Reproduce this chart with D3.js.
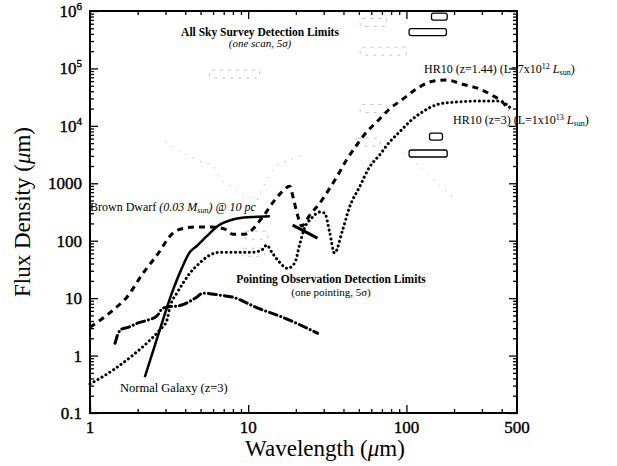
<!DOCTYPE html>
<html>
<head>
<meta charset="utf-8">
<script src="https://cdn.jsdelivr.net/npm/d3@7"></script>
<style>
  body { margin: 0; background: #fff; }
  text { font-family: "Liberation Serif", "Times New Roman", serif; fill: #000; }
</style>
</head>
<body>
<div id="chart"></div>
<script>
// values: wavelength (um) and flux density

// HR10 at z=1.44 (dashed)
var hr10aLam  = [1, 1.4, 1.71, 2.16, 2.65, 3.34, 3.98, 4.6, 5.89, 7.11, 7.98, 9.5, 12.2, 14.7, 16.5, 18.3, 19.4, 20.5, 21.8, 23.4, 25.2, 27.1, 31.3, 36.2, 41.8, 48.4, 56, 64.7, 78.1, 94.4, 116, 140, 179, 226, 289, 349, 404, 446]
var hr10aFlux = [3.1, 6.2, 10.4, 27, 56, 136, 166, 173, 173, 159, 130, 130, 248, 510, 730, 890, 510, 279, 180, 229, 315, 385, 675, 1280, 2540, 4600, 7800, 11600, 19600, 29000, 44000, 58000, 63000, 53000, 44000, 34000, 26000, 18800]

// HR10 at z=3 (dotted)
var hr10bLam  = [1, 1.4, 1.87, 2.39, 2.76, 3.06, 3.2, 3.54, 3.86, 4.27, 4.94, 5.71, 6.61, 10.7, 12.2, 13.1, 14.1, 15.8, 17.7, 19.7, 21.1, 22.7, 25.2, 28.3, 30.4, 32.7, 35.1, 39.5, 43.7, 50.5, 58.4, 67.6, 78.1, 90.3, 104, 126, 161, 207, 289, 386, 434, 467]
var hr10bFlux = [0.32, 0.56, 1.02, 1.85, 2.8, 4.1, 7, 12.2, 18, 27, 41, 56, 63, 63, 69, 84, 63, 42, 33, 41, 84, 166, 248, 315, 303, 141, 61, 153, 385, 860, 1910, 3100, 5200, 7800, 11600, 17400, 24000, 26000, 27000, 27000, 23000, 18800]

// Brown dwarf (solid) and its short piece past the gap
var dwarfLam  = [2.22, 2.76, 3.29, 3.8, 4.27, 4.73, 5.47, 6.42, 8.22, 10.5, 13.7]
var dwarfFlux = [0.42, 2.8, 12.2, 33, 63, 81, 120, 180, 238, 258, 268]
var dwarfTailLam  = [19.1, 27.4]
var dwarfTailFlux = [187, 111]

// Normal galaxy at z=3 (dash-dot)
var galLam  = [1.44, 1.5, 1.59, 1.74, 2.01, 2.29, 2.65, 2.89, 3.8, 4.73, 5.16, 6.61, 7.98, 11.5, 17, 27.4]
var galFlux = [1.64, 2.36, 2.9, 3.1, 3.7, 4.1, 4.9, 6.7, 7.6, 10.4, 12.2, 11.3, 10.4, 6.7, 4.5, 2.45]

// faint sensitivity traces in the scan
var faintVLam  = [2.97, 3.86, 4.73, 5.97, 6.8, 8.22, 9.93, 11.3, 12.3, 15.1, 18.3, 21.8]
var faintVFlux = [5200, 3360, 2540, 2000, 1140, 825, 575, 510, 825, 2000, 2540, 3100]
var faintCLam  = [97, 134, 195]
var faintCFlux = [3500, 1500, 575]

// detection limit boxes: band edges (um) and flux level
var boxLo   = [104, 144, 140, 104]
var boxHi   = [179, 181, 169, 181]
var boxFlux = [430000, 800000, 6500, 3300]
var faintBoxLo   = [51, 51, 5.7, 51, 48, 9.5, 9.1]
var faintBoxHi   = [75, 100, 11.8, 75, 68, 13.3, 12.7]
var faintBoxFlux = [630000, 200000, 80000, 20000, 5200, 125, 63]

// axis ticks
var xMajor = [1, 10, 100]
var xLabels = [1, 10, 100, 500]
var yMajor = [0.1, 1, 10, 100, 1000, 1e4, 1e5, 1e6]
var yLabels = ["0.1", "1", "10", "100", "1000", "10^4", "10^5", "10^6"]

var W = 617, H = 466
var margin = { top: 11, right: 100, bottom: 53, left: 90 }

var svg = d3.select("#chart").append("svg")
  .attr("width", W)
  .attr("height", H)

var x = d3.scaleLog().domain([1, 500]).range([margin.left, W - margin.right])
var y = d3.scaleLog().domain([0.1, 1e6]).range([H - margin.bottom, margin.top])

// minor tick values
var xMinor = []
;[1, 10, 100].forEach(function (dec) {
  for (var k = 2; k <= 9; k++) if (dec * k < 500) xMinor.push(dec * k)
})
var yMinor = []
yMajor.slice(0, -1).forEach(function (dec) {
  for (var k = 2; k <= 9; k++) yMinor.push(dec * k)
})

var x0 = margin.left, x1 = W - margin.right, y0 = H - margin.bottom, y1 = margin.top

function tickAxis(axis, vals, len, transform) {
  var g = svg.append("g")
    .attr("transform", transform)
    .call(axis.tickValues(vals).tickSizeInner(-len).tickSizeOuter(0).tickFormat(""))
  g.select(".domain").remove()
  g.selectAll(".tick line").attr("stroke", "#000").attr("stroke-width", 1.3)
}
tickAxis(d3.axisBottom(x), xMajor, 8, "translate(0," + y0 + ")")
tickAxis(d3.axisBottom(x), xMinor, 4, "translate(0," + y0 + ")")
tickAxis(d3.axisTop(x), xMajor, 8, "translate(0," + y1 + ")")
tickAxis(d3.axisTop(x), xMinor, 4, "translate(0," + y1 + ")")
tickAxis(d3.axisLeft(y), yMajor, 8, "translate(" + x0 + ",0)")
tickAxis(d3.axisLeft(y), yMinor, 4, "translate(" + x0 + ",0)")
tickAxis(d3.axisRight(y), yMajor, 8, "translate(" + x1 + ",0)")
tickAxis(d3.axisRight(y), yMinor, 4, "translate(" + x1 + ",0)")

// frame
svg.append("rect")
  .attr("x", x0).attr("y", y1)
  .attr("width", x1 - x0).attr("height", y0 - y1)
  .attr("fill", "none").attr("stroke", "#000").attr("stroke-width", 2)

// tick labels (scan looks heavy, so a thin outline)
svg.selectAll(".xl").data(xLabels).enter().append("text")
  .attr("x", function (d) { return x(d) })
  .attr("y", y0 + 20)
  .attr("text-anchor", "middle")
  .style("font-size", "17px")
  .style("stroke", "#000").style("stroke-width", 0.4)
  .text(function (d) { return d })

yMajor.forEach(function (v, i) {
  var t = svg.append("text")
    .attr("x", x0 - 8)
    .attr("y", y(v) + 6)
    .attr("text-anchor", "end")
    .style("font-size", "17px")
    .style("stroke", "#000").style("stroke-width", 0.4)
  var lab = yLabels[i]
  if (lab.indexOf("^") > 0) {
    var parts = lab.split("^")
    t.append("tspan").text(parts[0])
    t.append("tspan").attr("dy", -7).style("font-size", "11px").text(parts[1])
  } else {
    t.text(lab)
  }
})

// axis titles
svg.append("text")
  .attr("x", 325).attr("y", 456)
  .attr("text-anchor", "middle")
  .style("font-size", "23px")
  .html('Wavelength (<tspan font-style="italic">&#956;</tspan>m)')

svg.append("text")
  .attr("transform", "translate(30,212) rotate(-90)")
  .attr("text-anchor", "middle")
  .style("font-size", "23px")
  .html('Flux Density (<tspan font-style="italic">&#956;</tspan>m)')

// faint boxes and traces
var plot = svg.append("g")

faintBoxLo.forEach(function (lo, i) {
  plot.append("rect")
    .attr("x", x(lo)).attr("y", y(faintBoxFlux[i]) - 4)
    .attr("width", x(faintBoxHi[i]) - x(lo)).attr("height", 8)
    .attr("rx", 2)
    .attr("fill", "none").attr("stroke", "#c4c4c4").attr("stroke-width", 1)
    .attr("stroke-dasharray", "3,5")
})

var line = d3.line()
  .x(function (d) { return x(d[0]) })
  .y(function (d) { return y(d[1]) })
  .curve(d3.curveMonotoneX)

function pairs(a, b) { return a.map(function (v, i) { return [v, b[i]] }) }

plot.append("path").attr("d", line(pairs(faintVLam, faintVFlux)))
  .attr("fill", "none").attr("stroke", "#aaa").attr("stroke-width", 1)
  .attr("stroke-dasharray", "1,7")
plot.append("path").attr("d", line(pairs(faintCLam, faintCFlux)))
  .attr("fill", "none").attr("stroke", "#aaa").attr("stroke-width", 1)
  .attr("stroke-dasharray", "1,7")

boxLo.forEach(function (lo, i) {
  plot.append("rect")
    .attr("x", x(lo)).attr("y", y(boxFlux[i]) - 3.5)
    .attr("width", x(boxHi[i]) - x(lo)).attr("height", 7)
    .attr("rx", 2)
    .attr("fill", "none").attr("stroke", "#000").attr("stroke-width", 1.3)
})

// the four SED curves
var curves = [
  { d: pairs(hr10aLam, hr10aFlux), dash: "6,5", w: 3, cap: "butt" },
  { d: pairs(hr10bLam, hr10bFlux), dash: "0.1,4.5", w: 3, cap: "round" },
  { d: pairs(dwarfLam, dwarfFlux), dash: null, w: 2.5, cap: "butt" },
  { d: pairs(dwarfTailLam, dwarfTailFlux), dash: null, w: 3, cap: "butt" },
  { d: pairs(galLam, galFlux), dash: "8,4,0.1,4", w: 3, cap: "round" }
]
plot.selectAll(".sed").data(curves).enter().append("path")
  .attr("class", "sed")
  .attr("d", function (c) { return line(c.d) })
  .attr("fill", "none")
  .attr("stroke", "#000")
  .attr("stroke-width", function (c) { return c.w })
  .attr("stroke-linecap", function (c) { return c.cap })
  .attr("stroke-dasharray", function (c) { return c.dash })

// annotations
svg.append("text").attr("x", 260).attr("y", 36).attr("text-anchor", "middle")
  .style("font-size", "11.5px").style("font-weight", "bold")
  .text("All Sky Survey Detection Limits")
svg.append("text").attr("x", 260).attr("y", 47).attr("text-anchor", "middle")
  .style("font-size", "11px").style("font-style", "italic")
  .text("(one scan, 5\u03c3)")

svg.append("text").attr("x", 331).attr("y", 283).attr("text-anchor", "middle")
  .style("font-size", "11.5px").style("font-weight", "bold")
  .text("Pointing Observation Detection Limits")
svg.append("text").attr("x", 331).attr("y", 296).attr("text-anchor", "middle")
  .style("font-size", "11px")
  .text("(one pointing, 5\u03c3)")

svg.append("text").attr("x", 424).attr("y", 73)
  .style("font-size", "12px")
  .html('HR10 (z=1.44) (L=7x10<tspan dy="-4" font-size="8px">12</tspan><tspan dy="4"> </tspan><tspan font-style="italic">L</tspan><tspan dy="2" font-size="8px">sun</tspan><tspan dy="-2">)</tspan>')

svg.append("text").attr("x", 453).attr("y", 124)
  .style("font-size", "12px")
  .html('HR10 (z=3) (L=1x10<tspan dy="-4" font-size="8px">13</tspan><tspan dy="4"> </tspan><tspan font-style="italic">L</tspan><tspan dy="2" font-size="8px">sun</tspan><tspan dy="-2">)</tspan>')

svg.append("text").attr("x", 90).attr("y", 211)
  .style("font-size", "12px")
  .html('Brown Dwarf <tspan font-style="italic">(0.03 M</tspan><tspan dy="2" font-size="8px" font-style="italic">sun</tspan><tspan dy="-2" font-style="italic">) @ 10 pc</tspan>')

svg.append("text").attr("x", 120).attr("y", 392)
  .style("font-size", "12.5px")
  .text("Normal Galaxy (z=3)")
</script>
</body>
</html>
